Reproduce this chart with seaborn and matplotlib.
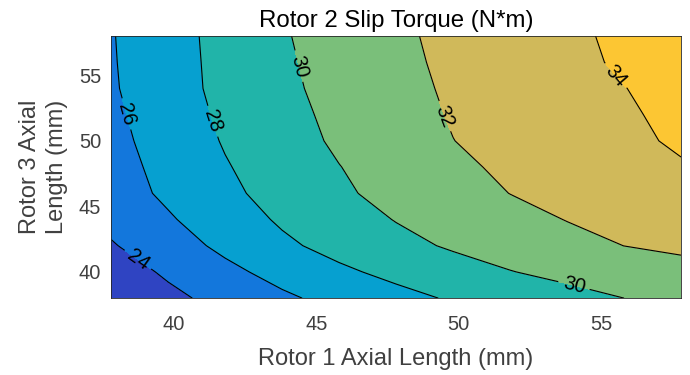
import numpy as np
import matplotlib
matplotlib.use("Agg")
import matplotlib.pyplot as plt
import seaborn as sns

# Grid of rotor lengths (mm)
rotor1_len = [37.8, 39.8, 41.8, 43.8, 45.8, 47.8, 49.8, 51.8, 53.8, 55.8, 57.8]
rotor3_len = [38, 40, 42, 44, 46, 48, 50, 52, 54, 56, 58]

# Slip torque (N*m); one list per rotor3 length, values along rotor1_len
torque_y38 = [22.48, 23.55, 24.61, 25.68, 26.59, 27.43, 28.20, 28.80, 29.40, 30.00, 30.64]
torque_y40 = [23.03, 24.28, 25.53, 26.64, 27.66, 28.49, 29.22, 29.94, 30.49, 31.01, 31.54]
torque_y42 = [23.84, 25.14, 26.42, 27.65, 28.61, 29.46, 30.22, 30.82, 31.42, 32.01, 32.26]
torque_y44 = [24.51, 25.80, 27.06, 28.24, 29.17, 30.07, 30.74, 31.41, 32.05, 32.41, 32.78]
torque_y46 = [25.10, 26.34, 27.59, 28.69, 29.73, 30.54, 31.28, 32.02, 32.45, 32.88, 33.31]
torque_y48 = [25.27, 26.57, 27.87, 28.93, 29.96, 30.81, 31.66, 32.31, 32.83, 33.35, 33.87]
torque_y50 = [25.46, 26.81, 28.14, 29.25, 30.27, 31.12, 31.98, 32.55, 33.11, 33.67, 34.21]
torque_y52 = [25.62, 27.02, 28.34, 29.44, 30.43, 31.32, 32.13, 32.69, 33.25, 33.82, 34.35]
torque_y54 = [25.79, 27.21, 28.50, 29.62, 30.59, 31.49, 32.24, 32.82, 33.40, 33.97, 34.50]
torque_y56 = [25.85, 27.24, 28.55, 29.73, 30.70, 31.60, 32.35, 32.97, 33.60, 34.21, 34.73]
torque_y58 = [25.89, 27.28, 28.60, 29.84, 30.80, 31.70, 32.43, 33.06, 33.69, 34.31, 34.85]

levels = [22, 24, 26, 28, 30, 32, 34, 36]
band_colors = ["#2f44c2", "#1377dc", "#06a0d0", "#21b4a9",
               "#7abf7a", "#d0b95a", "#fcc633"]

label_spots = [(38.6, 40.5), (38.24, 52.0), (41.23, 51.4), (44.2, 55.6),
               (49.3, 51.7), (55.47, 54.9), (54.0, 38.6)]

sns.set_theme(style="white")
plt.rcParams["font.family"] = ["Liberation Sans", "DejaVu Sans"]

X, Y = np.meshgrid(rotor1_len, rotor3_len)
Z = np.array([torque_y38, torque_y40, torque_y42, torque_y44, torque_y46, torque_y48,
              torque_y50, torque_y52, torque_y54, torque_y56, torque_y58])

fig = plt.figure(figsize=(6.9, 3.75), dpi=100)
ax = fig.add_axes([0.161, 0.205, 0.826, 0.699])

ax.contourf(X, Y, Z, levels=levels, colors=band_colors)
cs = ax.contour(X, Y, Z, levels=levels, colors="black", linewidths=0.8)
ax.clabel(cs, fmt="%d", fontsize=14.5, inline=True, manual=label_spots)

ax.set_xlim(37.8, 57.8)
ax.set_ylim(38, 58)
ax.set_xticks([40, 45, 50, 55])
ax.set_yticks([40, 45, 50, 55])
ax.tick_params(axis="both", labelsize=14.5, labelcolor="#404040", length=0)
ax.tick_params(axis="x", pad=12.5)
ax.tick_params(axis="y", pad=7)
for s in ax.spines.values():
    s.set_color("#262626")
    s.set_linewidth(0.6)

ax.set_title("Rotor 2 Slip Torque (N*m)", fontsize=17.3, color="black", pad=6.5)
ax.set_xlabel("Rotor 1 Axial Length (mm)", fontsize=17, color="#404040", va="top")
ax.xaxis.set_label_coords(0.5, -0.191)
ax.set_ylabel("Rotor 3 Axial\nLength (mm)", fontsize=17, color="#404040",
              linespacing=1.3)
ax.yaxis.set_label_coords(-0.075, 0.5)

fig.savefig("out.png", dpi=100)
